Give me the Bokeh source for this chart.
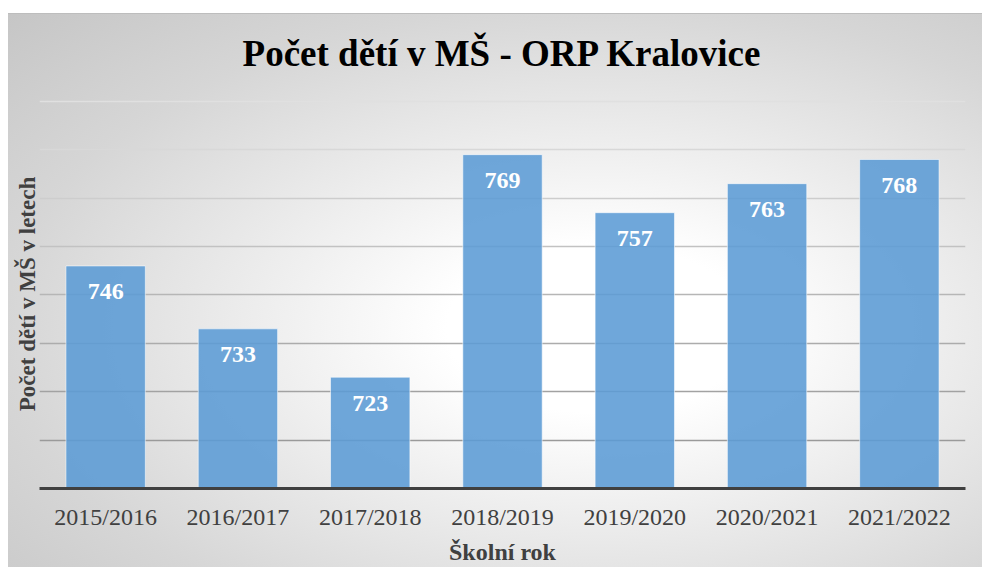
from bokeh.plotting import figure
from bokeh.models import FixedTicker, Range1d
from bokeh.embed import file_html
from bokeh.resources import INLINE

years = ["2015/2016", "2016/2017", "2017/2018", "2018/2019", "2019/2020", "2020/2021", "2021/2022"]
counts = [746, 733, 723, 769, 757, 763, 768]
grid_values = [710, 720, 730, 740, 750, 760, 770, 780]
title_text = "Počet dětí v MŠ - ORP Kralovice"
y_title = "Počet dětí v MŠ v letech"
x_title = "Školní rok"

FONT = "Liberation Serif"
grid_colors = ["#9a9a9a", "#a2a2a2", "#acacac", "#b6b6b6", "#c2c2c2", "#cdcdcd", "#d8d8d8", "#e0e0e0"]

p = figure(x_range=years, y_range=Range1d(700, 780.4), width=982, height=567,
           output_backend="svg", toolbar_location=None, title=title_text,
           min_border_left=39, min_border_right=17, min_border_top=99, min_border_bottom=79)

p.styles = {
    "background": "linear-gradient(#ffffff,#ffffff) 0 0/100% 13px no-repeat, "
                  "linear-gradient(#ffffff,#ffffff) 0 0/8px 100% no-repeat, "
                  "linear-gradient(#bdbdbd,#bdbdbd) 8px 13px/100% 1px no-repeat, "
                  "radial-gradient(ellipse at 61% 58%, #ffffff 0%, #ffffff 18%, #d6d6d6 70%, #c4c4c4 100%)"
}
p.background_fill_alpha = 0
p.border_fill_alpha = 0
p.outline_line_color = None

p.title.text_font = FONT
p.title.text_font_size = "37px"
p.title.text_font_style = "bold"
p.title.text_color = "#000000"
p.title.align = "center"
p.title.standoff = 52

p.xgrid.grid_line_color = None
p.ygrid.grid_line_color = None
p.hspan(y=grid_values, line_color=grid_colors, line_width=1.3)

p.vbar(x=years, top=counts, bottom=700, width=0.6, fill_color="#5b9bd5", fill_alpha=0.88,
       line_color="#ffffff", line_alpha=0.55, line_width=1)

p.text(x=years, y=counts, text=[str(c) for c in counts], text_align="center",
       text_baseline="middle", y_offset=26, text_color="#ffffff",
       text_font={"value": FONT}, text_font_size={"value": "24px"}, text_font_style="bold")

p.yaxis.ticker = FixedTicker(ticks=[])
p.yaxis.major_tick_line_color = None
p.yaxis.minor_tick_line_color = None
p.yaxis.axis_line_color = None
p.yaxis.major_label_standoff = 0
p.yaxis.axis_label = y_title
p.yaxis.axis_label_text_font = FONT
p.yaxis.axis_label_text_font_size = "23px"
p.yaxis.axis_label_text_font_style = "bold"
p.yaxis.axis_label_text_color = "#404040"
p.yaxis.axis_label_standoff = 0

p.xaxis.axis_line_color = "#404040"
p.xaxis.axis_line_width = 3
p.xaxis.major_tick_line_color = None
p.xaxis.minor_tick_line_color = None
p.xaxis.major_label_text_font = FONT
p.xaxis.major_label_text_font_size = "24px"
p.xaxis.major_label_text_color = "#404040"
p.xaxis.major_label_standoff = 9
p.xaxis.axis_label = x_title
p.xaxis.axis_label_text_font = FONT
p.xaxis.axis_label_text_font_size = "24px"
p.xaxis.axis_label_text_font_style = "bold"
p.xaxis.axis_label_text_color = "#404040"
p.xaxis.axis_label_standoff = 6

open("out.html", "w").write(file_html(p, INLINE))
